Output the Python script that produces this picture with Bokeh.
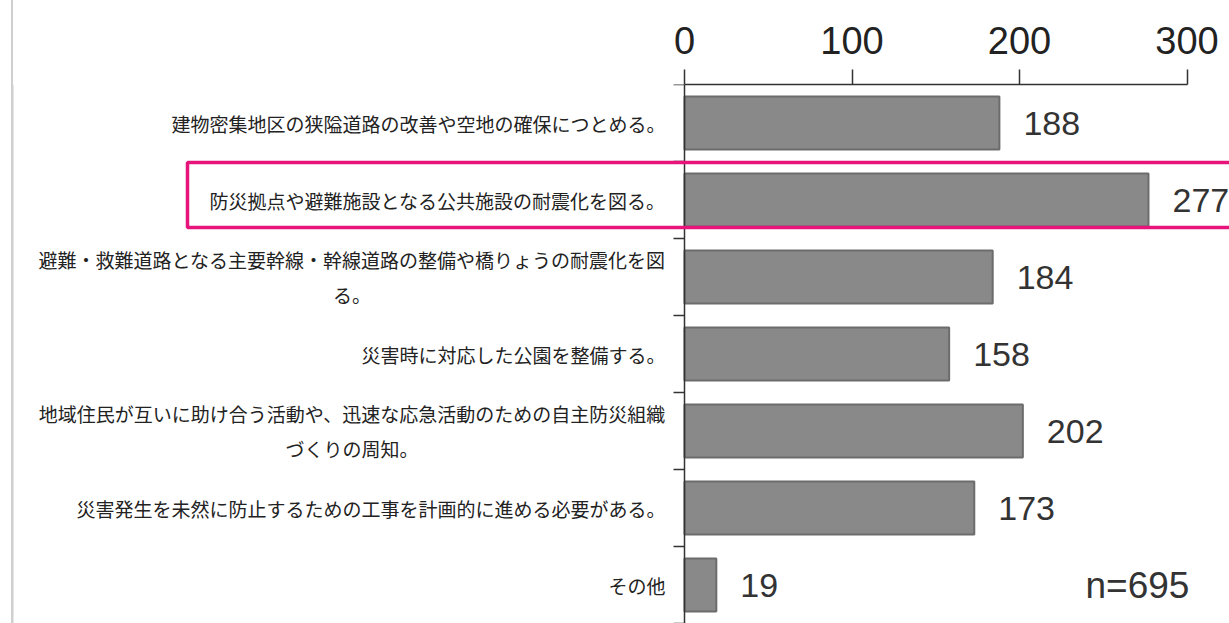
from bokeh.plotting import figure
from bokeh.models import Range1d, FixedTicker, Label, LabelSet, BoxAnnotation, ColumnDataSource
from bokeh.core.properties import value
from bokeh.embed import file_html
from bokeh.resources import INLINE

# ---- data ----
categories = [
    "建物密集地区の狭隘道路の改善や空地の確保につとめる。",
    "防災拠点や避難施設となる公共施設の耐震化を図る。",
    "避難・救難道路となる主要幹線・幹線道路の整備や橋りょうの耐震化を図\nる。",
    "災害時に対応した公園を整備する。",
    "地域住民が互いに助け合う活動や、迅速な応急活動のための自主防災組織\nづくりの周知。",
    "災害発生を未然に防止するための工事を計画的に進める必要がある。",
    "その他",
]
counts = [188, 277, 184, 158, 202, 173, 19]
x_ticks = [0, 100, 200, 300]
sample_note = "n=695"
highlight_index = 1

# ---- layout constants ----
W, H = 1229, 623
ZERO_PX = 684          # pixel column of value 0
FRAME_TOP = 84
PX_PER_UNIT = 1.675
X_START = -ZERO_PX / PX_PER_UNIT
X_END = (W - ZERO_PX) / PX_PER_UNIT
NCAT = len(categories)
BAND_PX = (H - FRAME_TOP) / NCAT

def px_to_x(px):
    return (px - ZERO_PX) / PX_PER_UNIT

def py_to_y(py):
    return (py - FRAME_TOP) / BAND_PX

p = figure(width=W, height=H, output_backend="svg", toolbar_location=None,
           x_range=Range1d(X_START, X_END), y_range=Range1d(NCAT, 0),
           x_axis_location="above",
           min_border_left=0, min_border_right=0,
           min_border_top=FRAME_TOP, min_border_bottom=0)
p.outline_line_color = None
p.xgrid.visible = False
p.ygrid.visible = False
p.yaxis.visible = False
p.background_fill_color = None
p.border_fill_color = None
p.styles = {"background": "linear-gradient(to right, #ffffff 11px, #cfcfcf 11px, #cfcfcf 13px, #ffffff 13px)"}

ys = [i + 0.5 for i in range(NCAT)]
src = ColumnDataSource(dict(y=ys, v=counts, t=[str(c) for c in counts]))

p.hbar(y="y", left=0, right="v", height=0.69, source=src,
       fill_color="#898989", line_color="#6c6c6c", line_width=2)

# x axis (top)
xa = p.xaxis[0]
xa.ticker = FixedTicker(ticks=x_ticks)
xa.bounds = (0, 300)
xa.major_tick_out = 15
xa.major_tick_in = 0
xa.minor_tick_line_color = None
xa.axis_line_color = "#333333"
xa.axis_line_width = 1.5
xa.major_tick_line_color = "#333333"
xa.major_tick_line_width = 1.5
xa.major_label_text_font = "Liberation Sans"
xa.major_label_text_font_size = "38px"
xa.major_label_text_color = "#222222"
xa.major_label_standoff = 16

# category axis: vertical line at 0 and ticks at band boundaries
bounds_y = list(range(NCAT + 1))
p.segment(x0=[0], y0=[0], x1=[0], y1=[NCAT], line_color="#333333", line_width=1.5)
p.segment(x0=[px_to_x(ZERO_PX - 11)] * len(bounds_y), y0=bounds_y,
          x1=[0] * len(bounds_y), y1=bounds_y, line_color="#333333", line_width=1.5)

# faint left page border (fallback within frame)
p.segment(x0=[px_to_x(12)], y0=[0], x1=[px_to_x(12)], y1=[NCAT],
          line_color="#cfcfcf", line_width=2)

# value labels
p.add_layout(LabelSet(x="v", y="y", text="t", source=src, x_offset=24,
                      text_baseline="middle", text_align="left",
                      text_font=value("Liberation Sans"),
                      text_font_size="34px", text_color="#333333"))

# category labels
FS = 19
LINE_GAP = 35 / BAND_PX
for i, cat in enumerate(categories):
    lines = cat.split("\n")
    if len(lines) == 1:
        p.add_layout(Label(x=0, y=ys[i], x_offset=-19, text=cat,
                           text_align="right", text_baseline="middle",
                           text_font="Noto Sans CJK JP",
                           text_font_size=f"{FS}px", text_color="#222222"))
    else:
        w = len(lines[0]) * FS
        for k, ln in enumerate(lines):
            yk = ys[i] - 0.5 * (len(lines) - 1) * LINE_GAP + k * LINE_GAP
            p.add_layout(Label(x=0, y=yk, x_offset=-19 - w / 2, text=ln,
                               text_align="center", text_baseline="middle",
                               text_font="Noto Sans CJK JP",
                               text_font_size=f"{FS}px", text_color="#222222"))

# n note
p.add_layout(Label(x=px_to_x(1085), y=ys[-1], text=sample_note,
                   text_align="left", text_baseline="middle",
                   text_font="Liberation Sans", text_font_size="37px",
                   text_color="#333333"))

# highlight box
p.add_layout(BoxAnnotation(left=px_to_x(187), right=px_to_x(W + 40),
                           top=highlight_index + py_to_y(162) - 1,
                           bottom=highlight_index + py_to_y(227) - 1,
                           fill_alpha=0, line_color="#E6147B", line_alpha=1,
                           line_width=3.5))

open("out.html", "w").write(file_html(p, INLINE))
